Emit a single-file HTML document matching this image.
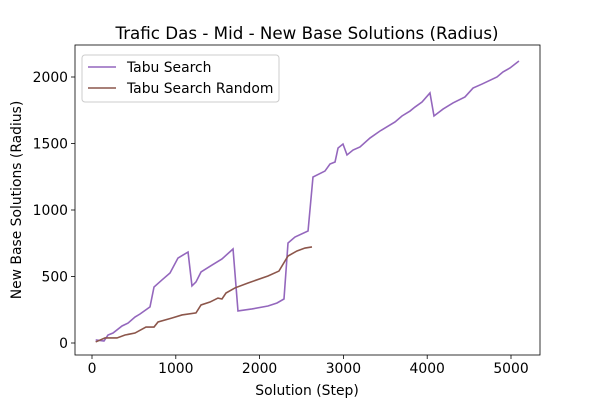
<!DOCTYPE html>
<html><head><meta charset="utf-8"><style>
body{margin:0;background:#fff;}
svg{display:block;font-family:"DejaVu Sans","Liberation Sans",sans-serif;}
</style></head><body>
<svg id="chart" width="600" height="400"></svg>
<script>
const tabuX=[44,143,191,251,358,430,513,573,692,740,835,931,1026,1146,1193,1241,1301,1432,1551,1683,1742,1909,2100,2208,2291,2339,2422,2578,2637,2780,2840,2900,2936,2995,3043,3115,3198,3317,3437,3616,3699,3795,3854,3938,4033,4081,4189,4308,4451,4547,4654,4833,4905,4988,5095];
const tabuY=[23,15,60,75,128,150,195,218,271,421,474,526,639,684,429,459,534,586,632,707,241,256,278,301,331,752,797,842,1248,1293,1346,1361,1466,1496,1414,1451,1474,1541,1594,1662,1707,1744,1774,1812,1880,1707,1759,1805,1850,1917,1947,2000,2038,2068,2120];
const randX=[44,155,298,394,513,644,740,788,955,1074,1241,1301,1408,1503,1551,1599,1706,1862,2100,2231,2339,2446,2542,2625];
const randY=[8,38,38,60,75,120,120,158,188,211,226,286,308,338,331,376,414,451,504,541,654,692,714,722];
const xTicks=[0,1000,2000,3000,4000,5000];
const yTicks=[0,500,1000,1500,2000];
const NS="http://www.w3.org/2000/svg";
const svg=document.getElementById('chart');
const L=75,R=540,T=45,B=355;
const sx=v=>92+v*0.0838;
const sy=v=>343-v*0.133;
function el(t,a,txt){const e=document.createElementNS(NS,t);for(const k in a)e.setAttribute(k,a[k]);if(txt!=null)e.textContent=txt;svg.appendChild(e);return e;}
const t=el('text',{x:307,y:39,'text-anchor':'middle','font-size':16.7,fill:'#000'},'Trafic Das - Mid - New Base Solutions (Radius)');


xTicks.forEach(v=>{
  const g=el('line',{x1:sx(v),x2:sx(v),y1:B,y2:B+4,stroke:'#000','stroke-width':0.8});
  
  
  const l=el('text',{x:sx(v),y:B+18,'text-anchor':'middle','font-size':13.9},String(v));
  
  
});
yTicks.forEach(v=>{
  const g=el('line',{x1:L-4,x2:L,y1:sy(v),y2:sy(v),stroke:'#000','stroke-width':0.8});
  
  
  const l=el('text',{x:L-7,y:sy(v)+5,'text-anchor':'end','font-size':13.9},String(v));
  
  
});
const xt=el('text',{x:307,y:395,'text-anchor':'middle','font-size':13.9},'Solution (Step)');


const yt=el('text',{x:21,y:200,'text-anchor':'middle','font-size':13.9,transform:'rotate(-90 21 200)'},'New Base Solutions (Radius)');


function line(xs,ys,c,name){
  const p=el('polyline',{points:xs.map((x,i)=>sx(x)+','+sy(ys[i])).join(' '),fill:'none',stroke:c,'stroke-width':1.6});
  
  
}
line(tabuX,tabuY,'#9467bd','tabu-search-line');
line(randX,randY,'#8c564b','tabu-search-random-line');
const fr=el('rect',{x:L,y:T,width:R-L,height:B-T,fill:'none',stroke:'#000','stroke-width':0.8});


const lg=el('rect',{x:82,y:55,width:197,height:47,fill:'#fff',stroke:'#ccc',rx:3});


[['Tabu Search','#9467bd',67],['Tabu Search Random','#8c564b',88]].forEach(([n,c,y])=>{
  const s=el('line',{x1:88,x2:116,y1:y,y2:y,stroke:c,'stroke-width':1.6});
  
  
  const tx=el('text',{x:127,y:y+5,'font-size':13.9},n);
  
  
});
</script>
</body></html>
